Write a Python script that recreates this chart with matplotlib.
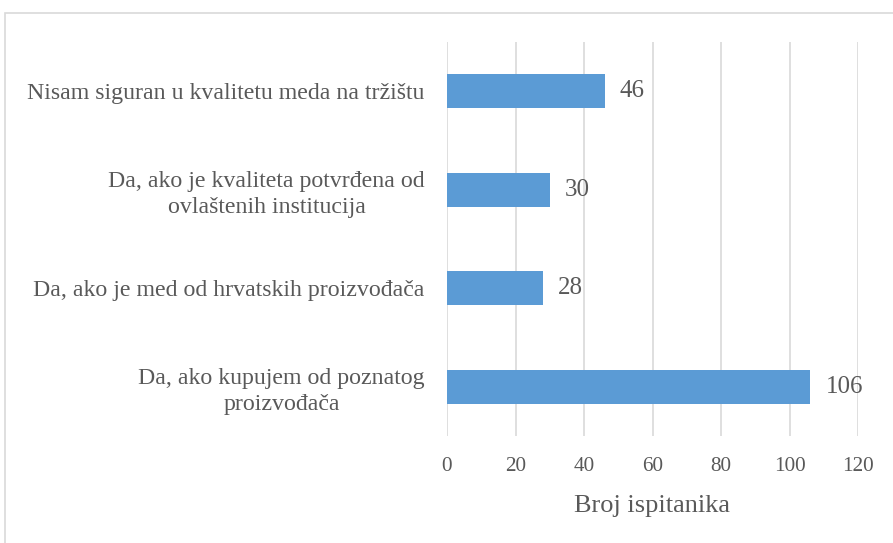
import matplotlib
matplotlib.use("Agg")
import matplotlib.pyplot as plt
from matplotlib.patches import Rectangle

categories = [
    "Da, ako kupujem od poznatog\nproizvođača",
    "Da, ako je med od hrvatskih proizvođača",
    "Da, ako je kvaliteta potvrđena od\novlaštenih institucija",
    "Nisam siguran u kvalitetu meda na tržištu",
]
values = [106, 28, 30, 46]
xticks = [0, 20, 40, 60, 80, 100, 120]
xlabel = "Broj ispitanika"

plt.rcParams['font.family'] = ['Liberation Serif', 'DejaVu Serif']
txt = '#595959'

fig = plt.figure(figsize=(8.93, 5.43), dpi=100)
ax = fig.add_axes([447/893, 1-436/543, (858-447)/893, (436-42)/543])

y = list(range(len(categories)))
ax.barh(y, values, height=0.35, color='#5B9BD5', zorder=3)
for yi, v in zip(y, values):
    ax.text(v + 4.5, yi, str(v), va='center', ha='left', fontsize=18, color=txt)

ax.set_xlim(0, 120)
ax.set_ylim(-0.5, 3.5)
ax.set_xticks(xticks)
ax.set_xticklabels([str(t) for t in xticks], fontsize=15.2, color=txt)
ax.set_yticks(y)
ax.set_yticklabels(categories, fontsize=17.2, color=txt, linespacing=1.3,
                   multialignment='center')
ax.tick_params(axis='both', length=0)
ax.tick_params(axis='x', pad=15)
ax.tick_params(axis='y', pad=16)
ax.grid(axis='x', color='#D9D9D9', linewidth=1.2, zorder=0)
for s in ax.spines.values():
    s.set_visible(False)
ax.set_xlabel(xlabel, fontsize=19, color=txt, labelpad=14)

fig.patches.append(Rectangle((5/893, -0.05), 1.0, 1 - 13/543 + 0.05,
                             transform=fig.transFigure, fill=False,
                             edgecolor='#D9D9D9', linewidth=1.2))

fig.savefig("out.png", dpi=100)
